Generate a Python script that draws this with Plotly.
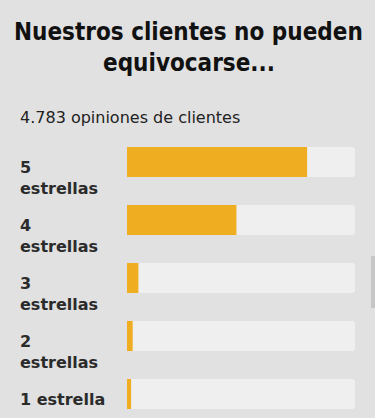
import plotly.graph_objects as go

categories = ["5 estrellas", "4 estrellas", "3 estrellas", "2 estrellas", "1 estrella"]
label_texts = ["5<br>estrellas", "4<br>estrellas", "3<br>estrellas", "2<br>estrellas", "1 estrella"]
values = [79, 48, 5, 2.5, 1.8]
track = [100, 100, 100, 100, 100]

title_lines = ["Nuestros clientes no pueden", "equivocarse..."]
subtitle = "4.783 opiniones de clientes"

W, H = 375, 418
ml, mr, mt, mb = 127, 20, 133, 0
plot_w = W - ml - mr
plot_h = H - mt - mb
row_px = 58

fig = go.Figure()
fig.add_trace(go.Bar(y=categories, x=track, orientation="h",
                     marker=dict(color="#efefef", cornerradius=3, line=dict(width=0)),
                     hoverinfo="skip", showlegend=False))
fig.add_trace(go.Bar(y=categories, x=values, orientation="h",
                     marker=dict(color="#efae22", cornerradius=3, line=dict(width=0)),
                     showlegend=False))

def px_x(px):
    return (px - ml) / plot_w

def py(px):
    return 1 - (px - mt) / plot_h

label_font = dict(family="DejaVu Sans, sans-serif", size=16, color="#2b2b2b", weight="bold")
title_font = dict(family="DejaVu Sans Condensed, Liberation Sans Narrow, DejaVu Sans, sans-serif",
                  size=24, color="#111111", weight="bold")

ann = []
for c, t in zip(categories, label_texts):
    ann.append(dict(xref="paper", yref="y", x=px_x(18), y=c,
                    xanchor="left", yanchor="top", yshift=6, text=t, showarrow=False,
                    align="left", font=label_font))

for i, line in enumerate(title_lines):
    ann.append(dict(xref="paper", yref="paper", x=px_x(W / 2 + 1),
                    y=py(32 + 31 * i), yanchor="middle", xanchor="center",
                    text=line, showarrow=False, font=title_font))
ann.append(dict(xref="paper", yref="paper", x=px_x(18), y=py(117),
                xanchor="left", yanchor="middle", text=subtitle, showarrow=False,
                font=dict(family="DejaVu Sans, sans-serif", size=16, color="#222222")))

fig.update_layout(
    width=W, height=H,
    margin=dict(l=ml, r=mr, t=mt, b=mb, pad=0),
    paper_bgcolor="#e1e1e1", plot_bgcolor="#e1e1e1",
    barmode="overlay", bargap=1 - 30 / row_px,
    xaxis=dict(range=[0, 100], visible=False, fixedrange=True),
    yaxis=dict(type="category", categoryorder="array", categoryarray=categories,
               range=[-0.5 + plot_h / row_px, -0.5], visible=False, fixedrange=True),
    annotations=ann,
    shapes=[dict(type="rect", xref="paper", yref="paper",
                 x0=px_x(371), x1=px_x(375),
                 y0=py(308), y1=py(256), fillcolor="#c6c6c6", line=dict(width=0), layer="above")],
)

fig.write_html("out.html", config={"displayModeBar": False},
               post_script="document.body.style.margin='0';document.body.style.overflow='hidden';")
